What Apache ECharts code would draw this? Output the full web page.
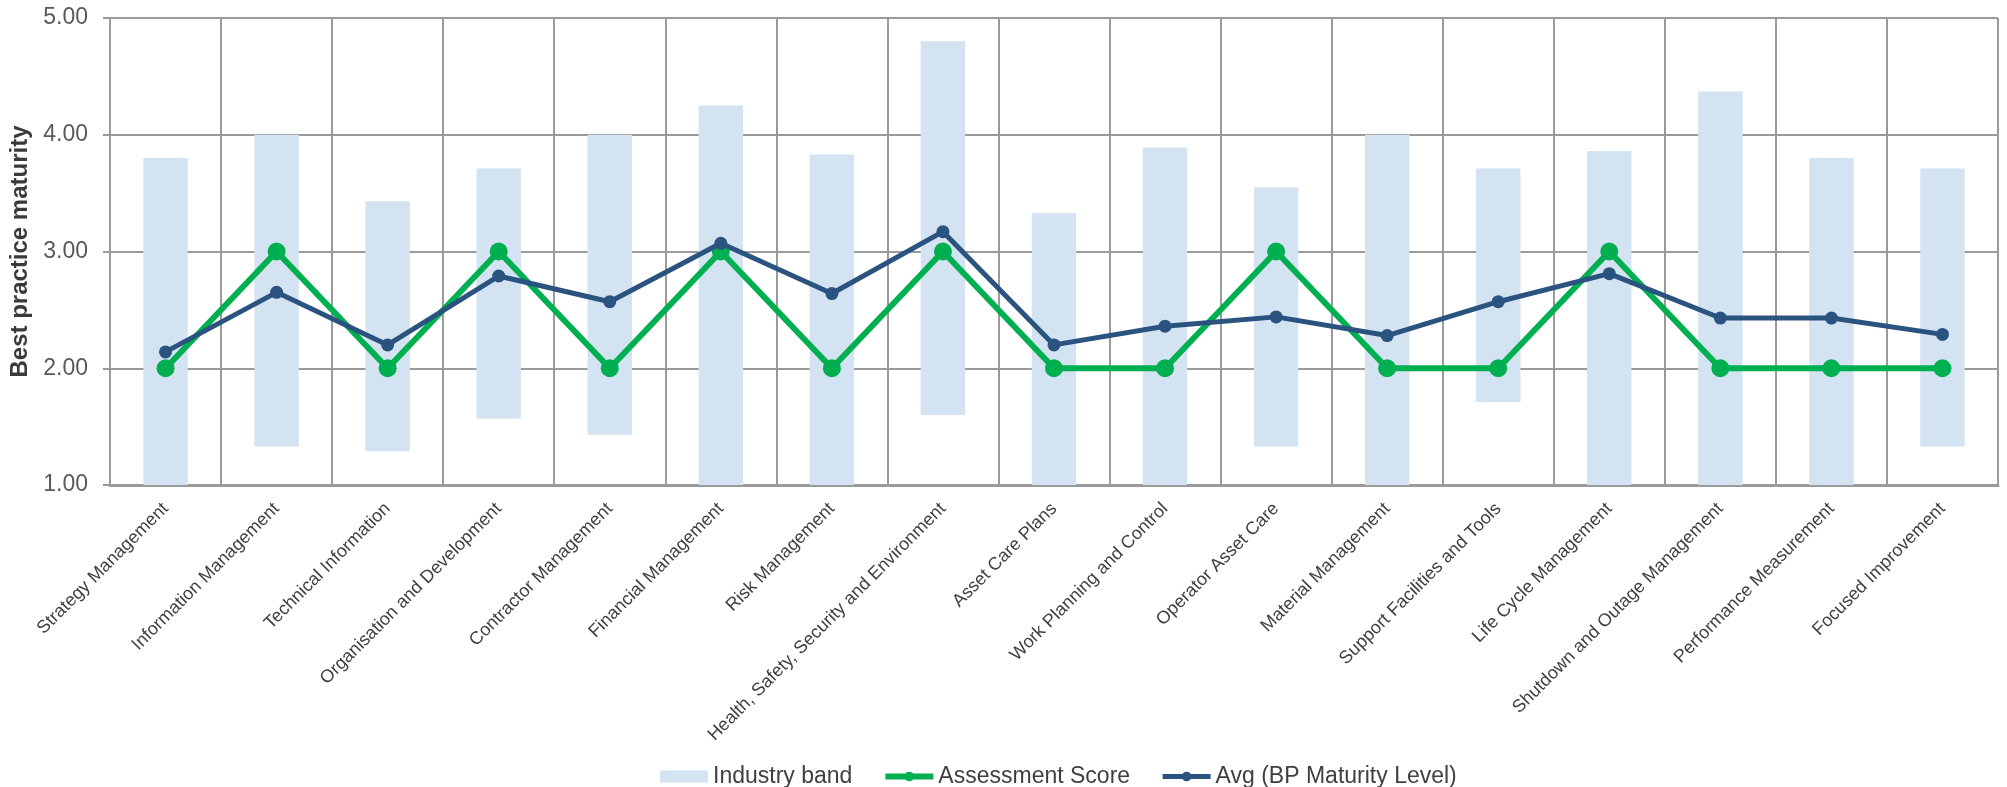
<!DOCTYPE html>
<html>
<head>
<meta charset="utf-8">
<script src="https://cdn.jsdelivr.net/npm/echarts@6/dist/echarts.min.js"></script>
<style>
  html, body { margin: 0; padding: 0; background: #ffffff; }
  #chart { width: 2007px; height: 787px; }
</style>
</head>
<body>
<div id="chart"></div>
<script>
var categories = [
  'Strategy Management', 'Information Management', 'Technical Information',
  'Organisation and Development', 'Contractor Management', 'Financial Management',
  'Risk Management', 'Health, Safety, Security and Environment', 'Asset Care Plans',
  'Work Planning and Control', 'Operator Asset Care', 'Material Management',
  'Support Facilities and Tools', 'Life Cycle Management', 'Shutdown and Outage Management',
  'Performance Measurement', 'Focused Improvement'
];
var bandLow  = [1.00, 1.33, 1.29, 1.57, 1.43, 1.00, 1.00, 1.60, 1.00, 1.00, 1.33, 1.00, 1.71, 1.00, 1.00, 1.00, 1.33];
var bandHigh = [3.80, 4.00, 3.43, 3.71, 4.00, 4.25, 3.83, 4.80, 3.33, 3.89, 3.55, 4.00, 3.71, 3.86, 4.37, 3.80, 3.71];
var assessmentScore = [2, 3, 2, 3, 2, 3, 2, 3, 2, 2, 3, 2, 2, 3, 2, 2, 2];
var avgMaturity = [2.14, 2.65, 2.20, 2.79, 2.57, 3.07, 2.64, 3.17, 2.20, 2.36, 2.44, 2.28, 2.57, 2.81, 2.43, 2.43, 2.29];
var yTicks = { min: 1, max: 5, interval: 1 };

var bandSpan = bandHigh.map(function (h, i) { return +(h - bandLow[i]).toFixed(2); });

var FONT = 'Liberation Sans, Arial, sans-serif';
var GRID = '#9a9a9a';
var GREEN = '#00b050';
var NAVY = '#2a5380';

var chart = echarts.init(document.getElementById('chart'), null, { renderer: 'canvas' });
chart.setOption({
  animation: false,
  backgroundColor: '#ffffff',
  textStyle: { fontFamily: FONT },
  grid: { left: 110, right: 9, top: 18, bottom: 302, containLabel: false },
  legend: {
    left: 655,
    top: 760,
    itemWidth: 48,
    itemHeight: 12,
    itemGap: 30,
    textStyle: { fontFamily: FONT, fontSize: 23, color: '#404040' },
    data: [
      { name: 'Industry band', icon: 'rect' },
      { name: 'Assessment Score', lineStyle: { width: 6, color: GREEN } },
      { name: 'Avg (BP Maturity Level)', lineStyle: { width: 5, color: NAVY } }
    ]
  },
  xAxis: {
    type: 'category',
    data: categories,
    boundaryGap: true,
    axisLine: { show: true, lineStyle: { color: GRID, width: 3 } },
    axisTick: { show: false, interval: 0 },
    splitLine: { show: true, interval: 0, lineStyle: { color: GRID, width: 2 } },
    axisLabel: {
      interval: 0,
      rotate: 45,
      margin: 21,
      fontFamily: FONT,
      fontSize: 18,
      color: '#404040'
    }
  },
  yAxis: {
    type: 'value',
    min: yTicks.min,
    max: yTicks.max,
    interval: yTicks.interval,
    name: 'Best practice maturity',
    nameLocation: 'middle',
    nameGap: 72,
    nameRotate: 90,
    nameTextStyle: { fontFamily: FONT, fontSize: 24, fontWeight: 'bold', color: '#3a3a3a' },
    axisLine: { show: true, lineStyle: { color: GRID, width: 2 } },
    axisTick: { show: true, inside: false, length: 7, lineStyle: { color: GRID, width: 2 } },
    splitLine: { show: true, lineStyle: { color: GRID, width: 2 } },
    axisLabel: {
      margin: 22,
      fontFamily: FONT,
      fontSize: 23,
      color: '#595959',
      formatter: function (v) { return v.toFixed(2); }
    }
  },
  series: [
    {
      name: 'bandBase',
      type: 'bar',
      stack: 'band',
      barWidth: '40%',
      silent: true,
      itemStyle: { color: 'rgba(0,0,0,0)' },
      data: bandLow,
      z: 1
    },
    {
      name: 'Industry band',
      type: 'bar',
      stack: 'band',
      barWidth: '40%',
      itemStyle: { color: '#d3e3f2' },
      data: bandSpan,
      z: 1
    },
    {
      name: 'Assessment Score',
      type: 'line',
      data: assessmentScore,
      symbol: 'circle',
      symbolSize: 18,
      lineStyle: { color: GREEN, width: 6 },
      itemStyle: { color: GREEN },
      z: 3
    },
    {
      name: 'Avg (BP Maturity Level)',
      type: 'line',
      data: avgMaturity,
      symbol: 'circle',
      symbolSize: 13,
      lineStyle: { color: NAVY, width: 5 },
      itemStyle: { color: NAVY },
      z: 4
    }
  ]
});
</script>
</body>
</html>
